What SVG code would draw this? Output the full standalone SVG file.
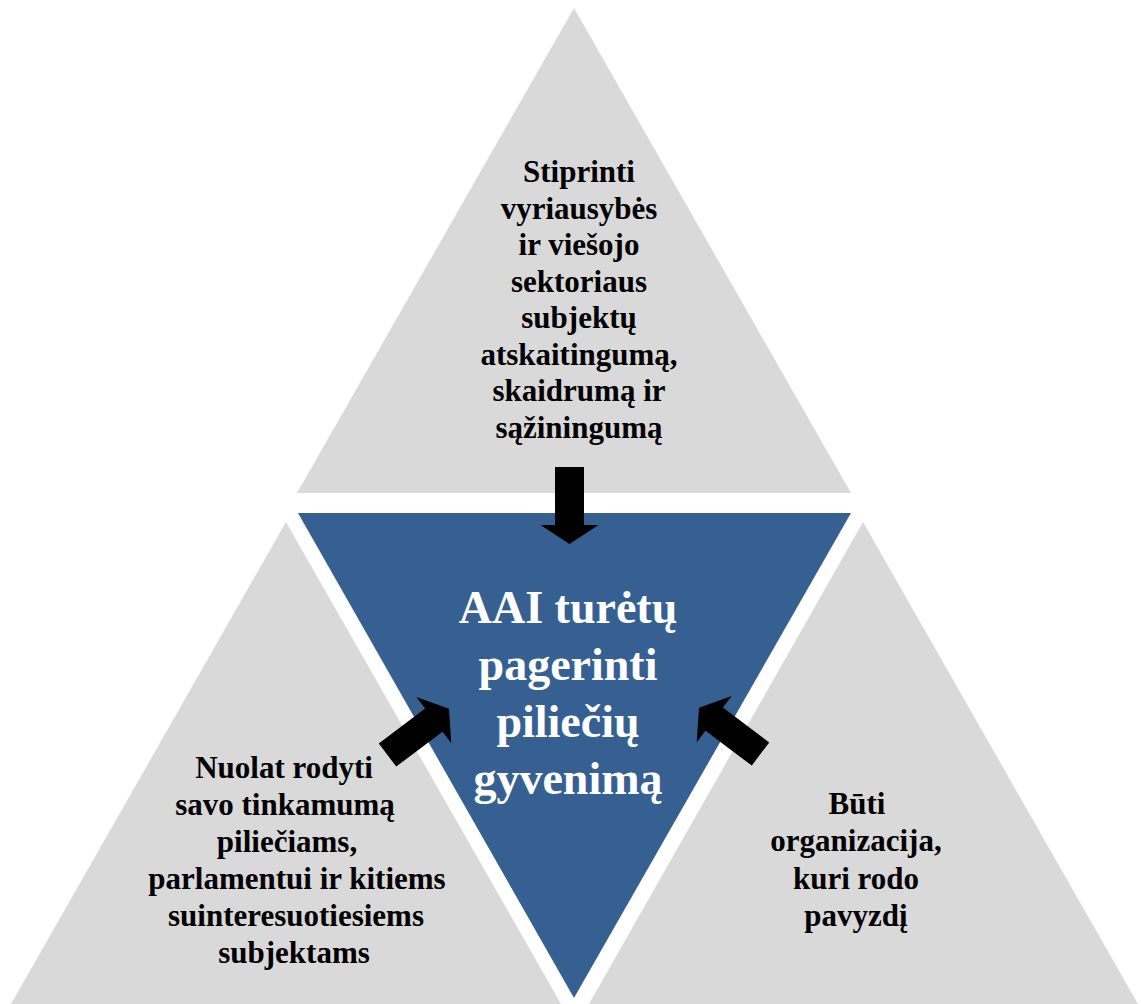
<svg xmlns="http://www.w3.org/2000/svg" width="1143" height="1004" viewBox="0 0 1143 1004">
<style>
.tri{fill:#d9d9d9}
.center{fill:#376092}
.t{font-family:"Liberation Serif","Times New Roman",serif;font-weight:bold;font-size:31px;fill:#000;text-anchor:middle}
.c{font-family:"Liberation Serif","Times New Roman",serif;font-weight:bold;font-size:46px;fill:#fff;text-anchor:middle}
.arr{fill:#000}
</style>
<defs>
<polygon id="arrow" points="0,-14.5 58,-14.5 58,-29 77,0 58,29 58,14.5 0,14.5"/>
</defs>
<rect width="1143" height="1004" fill="#fff"/>
<g id="node-top">
<polygon class="tri" points="574,8 851,493 297,493"/>
<text class="t" x="579" y="182">Stiprinti</text>
<text class="t" x="579" y="218.5">vyriausybės</text>
<text class="t" x="579" y="255">ir viešojo</text>
<text class="t" x="579" y="291.5">sektoriaus</text>
<text class="t" x="579" y="328">subjektų</text>
<text class="t" x="579" y="364.5">atskaitingumą,</text>
<text class="t" x="579" y="401">skaidrumą ir</text>
<text class="t" x="579" y="437.5">sąžiningumą</text>
</g>
<g id="node-left">
<polygon class="tri" points="286,522 561,1004 11,1004"/>
<text class="t" x="284" y="778">Nuolat rodyti</text>
<text class="t" x="285" y="815">savo tinkamumą</text>
<text class="t" x="287" y="852">piliečiams,</text>
<text class="t" x="297" y="889">parlamentui ir kitiems</text>
<text class="t" x="296" y="926">suinteresuotiesiems</text>
<text class="t" x="294" y="963">subjektams</text>
</g>
<g id="node-right">
<polygon class="tri" points="863,522 1138,1004 589,1004"/>
<text class="t" x="857" y="814">Būti</text>
<text class="t" x="856" y="851">organizacija,</text>
<text class="t" x="856" y="889">kuri rodo</text>
<text class="t" x="856" y="926">pavyzdį</text>
</g>
<g id="node-center">
<polygon class="center" points="298,513 851,513 574,998"/>
<text class="c" x="568" y="623">AAI turėtų</text>
<text class="c" x="568" y="680">pagerinti</text>
<text class="c" x="568" y="737">piliečių</text>
<text class="c" x="568" y="794">gyvenimą</text>
</g>
<g id="connectors">
<use href="#arrow" class="arr" transform="translate(569.5,467) rotate(90)"/>
<use href="#arrow" class="arr" transform="translate(387.5,755) rotate(-37)"/>
<use href="#arrow" class="arr" transform="translate(760.5,754) rotate(-143)"/>
</g>
</svg>
